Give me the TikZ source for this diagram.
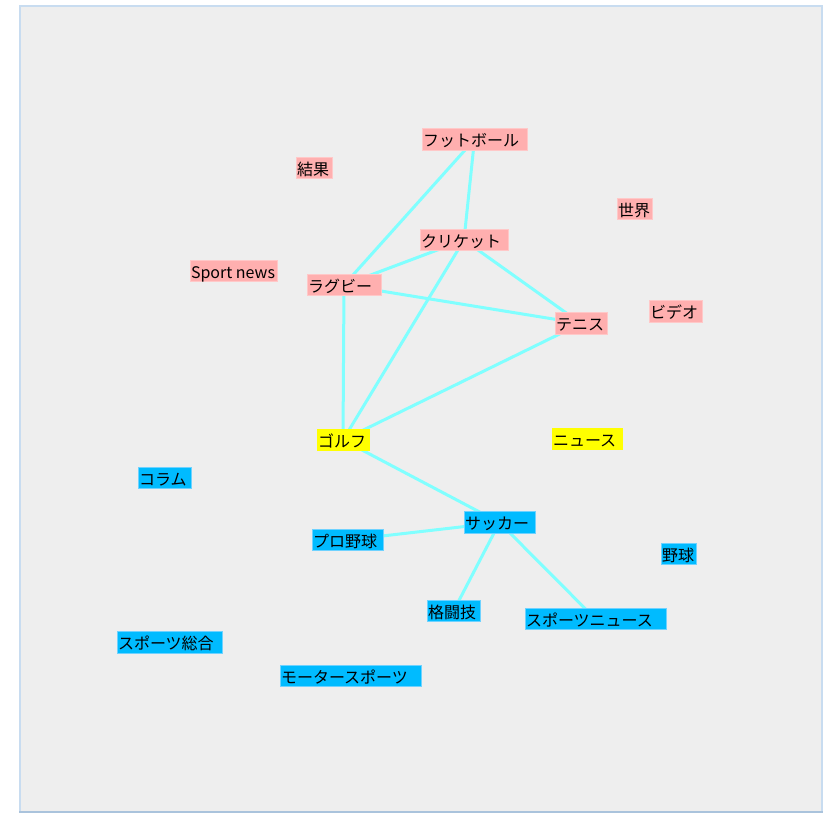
\documentclass[tikz,border=0pt]{standalone}
\usepackage{fontspec}
\setmainfont{Noto Sans CJK JP}
\definecolor{panelbg}{RGB}{238,238,238}
\definecolor{panelframe}{RGB}{200,220,240}
\definecolor{panelframedark}{RGB}{170,195,220}
\definecolor{pinkfill}{RGB}{255,175,175}
\definecolor{pinkline}{RGB}{255,200,200}
\definecolor{bluefill}{RGB}{0,187,255}
\definecolor{blueline}{RGB}{110,210,255}
\definecolor{yellowfill}{RGB}{255,255,0}
\definecolor{edgecyan}{RGB}{128,255,255}
\pgfdeclarelayer{panel}
\pgfdeclarelayer{edges}
\pgfsetlayers{panel,edges,main}
\tikzset{
  term/.style={rectangle, inner xsep=1pt, inner ysep=0pt, minimum height=21.5pt,
    font=\fontsize{16}{17}\selectfont, text=black, line width=1pt},
  pinkterm/.style={term, fill=pinkfill, draw=pinkline},
  blueterm/.style={term, fill=bluefill, draw=blueline},
  yellowterm/.style={term, fill=yellowfill, draw=yellowfill},
  link/.style={draw=edgecyan, line width=3pt},
}
% a term box given by its left, top, right and bottom edge
\newcommand{\termbox}[7]{%
  \pgfmathsetmacro{\tbw}{#5-#3}%
  \pgfmathsetmacro{\tbtw}{#5-#3-2}%
  \node[#1, minimum width=\tbw pt] (#2) at ({(#3+#5)/2},{(#4+#6)/2})
    {\makebox[\tbtw pt][l]{\raisebox{-1.5pt}[13pt][2pt]{#7}}};%
}
\begin{document}
\begin{tikzpicture}[x=1pt,y=-1pt]
\useasboundingbox (0,0) rectangle (823,814);
\begin{pgfonlayer}{panel}
  \fill[white] (0,0) rectangle (823,814);
  \fill[panelbg] (19,5) rectangle (822,812);
  \draw[panelframe, line width=2pt] (20,812) -- (20,6) -- (822,6) -- (822,812);
  \draw[panelframedark, line width=2pt] (19,812) -- (823,812);
\end{pgfonlayer}

% pink terms
\termbox{pinkterm}{football}{422}{129}{527}{150}{フットボール}
\termbox{pinkterm}{kekka}{296}{157}{332}{179}{結果}
\termbox{pinkterm}{cricket}{420}{229}{508}{251}{クリケット}
\termbox{pinkterm}{rugby}{307}{274}{381}{296}{ラグビー}
\termbox{pinkterm}{sekai}{617}{198}{652}{220}{世界}
\termbox{pinkterm}{video}{649}{301}{702}{322}{ビデオ}
\termbox{pinkterm}{tennis}{555}{313}{607}{334}{テニス}
\termbox{pinkterm}{sportnews}{190}{260}{277}{282}{Sport news}

% yellow terms
\termbox{yellowterm}{golf}{317}{429}{369}{451}{ゴルフ}
\termbox{yellowterm}{news}{552}{428}{622}{450}{ニュース}

% blue terms
\termbox{blueterm}{column}{138}{467}{191}{489}{コラム}
\termbox{blueterm}{proyakyu}{312}{529}{383}{551}{プロ野球}
\termbox{blueterm}{soccer}{464}{512}{535}{533}{サッカー}
\termbox{blueterm}{yakyu}{661}{543}{696}{565}{野球}
\termbox{blueterm}{kakutougi}{427}{600}{480}{622}{格闘技}
\termbox{blueterm}{spnews}{525}{608}{666}{630}{スポーツニュース}
\termbox{blueterm}{sogo}{117}{632}{222}{653}{スポーツ総合}
\termbox{blueterm}{motor}{280}{665}{421}{687}{モータースポーツ}

% links between term centres, under the boxes
\begin{pgfonlayer}{edges}
  \draw[link] (football.center) -- (rugby.center);
  \draw[link] (football.center) -- (cricket.center);
  \draw[link] (cricket.center) -- (rugby.center);
  \draw[link] (cricket.center) -- (tennis.center);
  \draw[link] (cricket.center) -- (golf.center);
  \draw[link] (rugby.center) -- (tennis.center);
  \draw[link] (rugby.center) -- (golf.center);
  \draw[link] (tennis.center) -- (golf.center);
  \draw[link] (golf.center) -- (soccer.center);
  \draw[link] (soccer.center) -- (proyakyu.center);
  \draw[link] (soccer.center) -- (kakutougi.center);
  \draw[link] (soccer.center) -- (spnews.center);
\end{pgfonlayer}
\end{tikzpicture}
\end{document}
